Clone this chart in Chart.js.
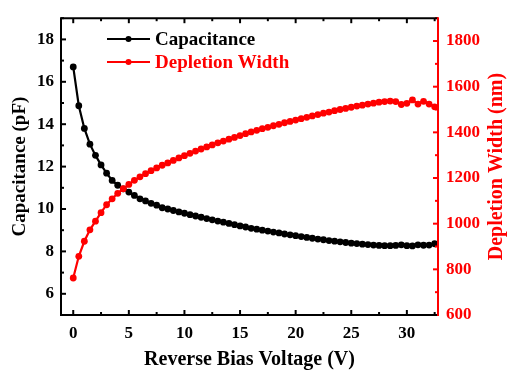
<!DOCTYPE html>
<html>
<head>
<meta charset="utf-8">
<script src="https://cdn.jsdelivr.net/npm/chart.js@4/dist/chart.umd.min.js"></script>
<style>
html,body{margin:0;padding:0;background:#ffffff;}
#wrap{width:507px;height:378px;position:relative;}
</style>
</head>
<body>
<div id="wrap"><canvas id="c"></canvas></div>
<script>
// ---------- data ----------
const voltage = [0,0.5,1,1.5,2,2.5,3,3.5,4,4.5,5,5.5,6,6.5,7,7.5,8,8.5,9,9.5,
  10,10.5,11,11.5,12,12.5,13,13.5,14,14.5,15,15.5,16,16.5,17,17.5,18,18.5,19,19.5,
  20,20.5,21,21.5,22,22.5,23,23.5,24,24.5,25,25.5,26,26.5,27,27.5,28,28.5,29,29.5,
  30,30.5,31,31.5,32,32.5];
const capacitance = [16.70,14.87,13.80,13.06,12.53,12.08,11.69,11.35,11.12,10.95,
  10.80,10.64,10.48,10.38,10.27,10.18,10.06,10.00,9.93,9.86,
  9.80,9.73,9.67,9.61,9.55,9.49,9.43,9.38,9.32,9.26,
  9.20,9.15,9.09,9.05,9.00,8.96,8.91,8.87,8.82,8.78,
  8.74,8.70,8.66,8.62,8.58,8.55,8.51,8.48,8.45,8.42,
  8.39,8.37,8.34,8.32,8.30,8.28,8.27,8.27,8.28,8.31,
  8.27,8.26,8.31,8.29,8.30,8.36];
const depletionWidth = [762,857,923,973,1011,1048,1083,1109,1133,1153,
  1172,1190,1205,1219,1232,1244,1256,1266,1277,1288,
  1298,1308,1318,1327,1336,1345,1354,1362,1370,1378,
  1386,1394,1402,1409,1416,1422,1429,1435,1442,1448,
  1454,1460,1466,1472,1478,1484,1489,1495,1500,1505,
  1510,1515,1519,1524,1528,1532,1535,1537,1535,1522,
  1527,1542,1524,1536,1524,1512];
const seriesNames = ['Capacitance','Depletion Width'];
const xMajorTicks = [0,5,10,15,20,25,30];
const xMinorTicks = [2.5,7.5,12.5,17.5,22.5,27.5,32.5];
const leftMajorTicks = [6,8,10,12,14,16,18];
const leftMinorTicks = [5,7,9,11,13,15,17,19];
const rightMajorTicks = [600,800,1000,1200,1400,1600,1800];
const rightMinorTicks = [700,900,1100,1300,1500,1700,1900];
const xTitle = 'Reverse Bias Voltage (V)';
const leftTitle = 'Capacitance (pF)';
const rightTitle = 'Depletion Width (nm)';

const BLACK = '#000000';
const RED = '#ff0000';
const FAMILY = "'Liberation Serif','Times New Roman',serif";

const capPoints = voltage.map((v,i)=>({x:v,y:capacitance[i]}));
const dwPoints = voltage.map((v,i)=>({x:v,y:depletionWidth[i]}));

const framePlugin = {
  id:'frame',
  afterDraw(chart){
    const {ctx, chartArea:a, scales} = chart;
    const sx = scales.x, sy = scales.y, sy1 = scales.y1;
    ctx.save();
    ctx.lineWidth = 2;
    ctx.lineCap = 'butt';
    const seg = (x1,y1,x2,y2,c)=>{ctx.strokeStyle=c;ctx.beginPath();ctx.moveTo(x1,y1);ctx.lineTo(x2,y2);ctx.stroke();};
    const MAJ = 5, MIN = 3;
    xMajorTicks.forEach(v=>{const p=sx.getPixelForValue(v);seg(p,a.bottom,p,a.bottom-MAJ,BLACK);seg(p,a.top,p,a.top+MAJ,BLACK);});
    xMinorTicks.forEach(v=>{const p=sx.getPixelForValue(v);if(p<a.right-2){seg(p,a.bottom,p,a.bottom-MIN,BLACK);seg(p,a.top,p,a.top+MIN,BLACK);}});
    leftMajorTicks.forEach(v=>{const p=sy.getPixelForValue(v);seg(a.left,p,a.left+MAJ,p,BLACK);});
    leftMinorTicks.forEach(v=>{const p=sy.getPixelForValue(v);seg(a.left,p,a.left+MIN,p,BLACK);});
    rightMajorTicks.forEach(v=>{const p=sy1.getPixelForValue(v);seg(a.right,p,a.right-MAJ,p,RED);});
    rightMinorTicks.forEach(v=>{const p=sy1.getPixelForValue(v);seg(a.right,p,a.right-MIN,p,RED);});
    // frame
    ctx.strokeStyle = BLACK;
    ctx.beginPath();
    ctx.moveTo(a.right,a.top);ctx.lineTo(a.left,a.top);ctx.lineTo(a.left,a.bottom);ctx.lineTo(a.right,a.bottom);
    ctx.stroke();
    seg(a.right,a.top-1,a.right,a.bottom+1,RED);
    // right axis title (reads bottom-to-top)
    ctx.save();
    ctx.translate(497,(a.top+a.bottom)/2);
    ctx.rotate(-Math.PI/2);
    ctx.font = 'bold 20px '+FAMILY;
    ctx.fillStyle = RED;
    ctx.textAlign = 'center';
    ctx.textBaseline = 'middle';
    ctx.fillText(rightTitle,0,0);
    ctx.restore();
    // legend
    const rows = [{y:39},{y:62}];
    ctx.font = 'bold 19px '+FAMILY;
    ctx.textAlign = 'left';
    ctx.textBaseline = 'middle';
    chart.data.datasets.forEach((ds,i)=>{
      const r = rows[i];
      seg(107,r.y,150,r.y,ds.borderColor);
      ctx.fillStyle = ds.borderColor;
      ctx.beginPath();ctx.arc(128.5,r.y,3,0,Math.PI*2);ctx.fill();
      ctx.fillText(ds.label,155,r.y+1);
    });
    ctx.restore();
  }
};

const plainLabel = v => String(v);

new Chart(document.getElementById('c'),{
  type:'line',
  data:{datasets:[
    {label:seriesNames[0],data:capPoints,yAxisID:'y',borderColor:BLACK,backgroundColor:BLACK,
     borderWidth:2.2,pointRadius:3.4,pointBorderWidth:0,pointBackgroundColor:BLACK,tension:0,order:1},
    {label:seriesNames[1],data:dwPoints,yAxisID:'y1',borderColor:RED,backgroundColor:RED,
     borderWidth:2.2,pointRadius:3.4,pointBorderWidth:0,pointBackgroundColor:RED,tension:0,order:0}
  ]},
  options:{
    responsive:true,maintainAspectRatio:false,animation:false,
    layout:{padding:{top:10,left:0,right:0,bottom:0}},
    plugins:{legend:{display:false},tooltip:{enabled:false}},
    scales:{
      x:{type:'linear',position:'bottom',min:-1.1,max:32.8,
        afterFit(s){s.height=63;},
        grid:{display:false,drawTicks:false},border:{display:false},
        ticks:{stepSize:5,includeBounds:false,padding:8,color:BLACK,callback:plainLabel,font:{family:FAMILY,size:17,weight:'bold'},maxRotation:0},
        afterBuildTicks(s){s.ticks = xMajorTicks.map(v=>({value:v}));},
        title:{display:true,text:xTitle,color:BLACK,font:{family:FAMILY,size:20,weight:'bold'},padding:{top:0,bottom:6}}},
      y:{type:'linear',position:'left',min:5,max:19,
        afterFit(s){s.width=61;},
        grid:{display:false,drawTicks:false},border:{display:false},
        ticks:{padding:7,color:BLACK,callback:plainLabel,font:{family:FAMILY,size:17,weight:'bold'}},
        afterBuildTicks(s){s.ticks = leftMajorTicks.map(v=>({value:v}));},
        title:{display:true,text:leftTitle,color:BLACK,font:{family:FAMILY,size:19,weight:'bold'},padding:{top:9,bottom:0}}},
      y1:{type:'linear',position:'right',min:600,max:1900,
        afterFit(s){s.width=69;},
        grid:{display:false,drawTicks:false},border:{display:false},
        ticks:{padding:8,color:RED,callback:plainLabel,font:{family:FAMILY,size:17,weight:'bold'}},
        afterBuildTicks(s){s.ticks = rightMajorTicks.map(v=>({value:v}));},
        title:{display:false}}
    }
  },
  plugins:[framePlugin]
});
</script>
</body>
</html>
